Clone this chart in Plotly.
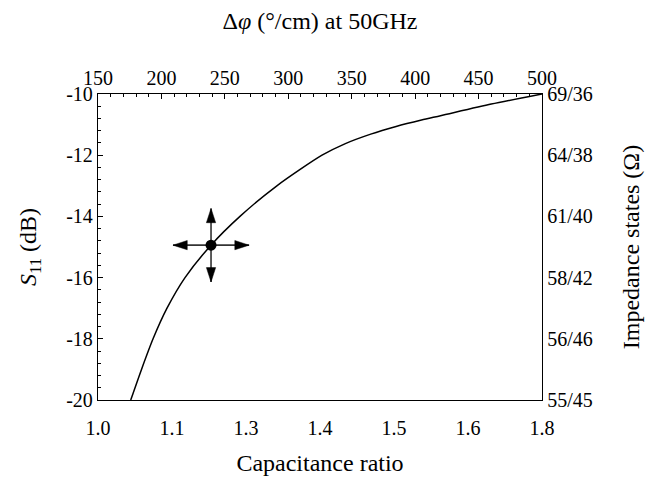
import plotly.graph_objects as go

# ---- data ----
dphi = [175.8, 184.3, 193.4, 204.4, 218.6, 239.1, 261.9, 291.0, 326.6, 345, 365, 385, 405, 420, 460, 500]
s11 = [-20, -19, -18, -17, -16, -14.94, -14, -13, -12, -11.62, -11.31, -11.06, -10.85, -10.71, -10.33, -10]
marker_dphi = [239.1]
marker_s11 = [-14.94]

cap_ticks = [0, 1, 2, 3, 4, 5, 6]
cap_labels = ["1.0", "1.1", "1.3", "1.4", "1.5", "1.6", "1.8"]
s11_ticks = [-20, -18, -16, -14, -12, -10]
s11_labels = ["-20", "-18", "-16", "-14", "-12", "-10"]
imp_labels = ["55/45", "56/46", "58/42", "61/40", "64/38", "69/36"]

FONT = "Liberation Serif"
fs = 20
tfs = 24

fig = go.Figure()
fig.add_trace(go.Scatter(x=dphi, y=s11, xaxis="x2", yaxis="y", mode="lines",
                         line=dict(color="black", width=1.5, shape="spline", smoothing=0.7),
                         showlegend=False, hoverinfo="skip"))
fig.add_trace(go.Scatter(x=[None], y=[None], xaxis="x", yaxis="y2", mode="lines",
                         showlegend=False, hoverinfo="skip"))

# arrows: shafts as short lines, heads as arrow-shaped markers
adx, ady = 30, 1.2
mx, my = marker_dphi[0], marker_s11[0]
heads = [(mx, my + ady, 0), (mx, my - ady, 180), (mx - adx, my, 270), (mx + adx, my, 90)]
for hx, hy, ang in heads:
    fig.add_trace(go.Scatter(x=[mx, hx], y=[my, hy], xaxis="x2", yaxis="y", mode="lines",
                             line=dict(color="#333", width=1.6),
                             showlegend=False, hoverinfo="skip"))
fig.add_trace(go.Scatter(x=[h[0] for h in heads], y=[h[1] for h in heads], xaxis="x2", yaxis="y",
                         mode="markers",
                         marker=dict(symbol="arrow", size=15, color="#000000",
                                     angle=[h[2] for h in heads], opacity=1,
                                     line=dict(width=0.5, color="#000000")),
                         showlegend=False, hoverinfo="skip"))

fig.add_trace(go.Scatter(x=marker_dphi, y=marker_s11, xaxis="x2", yaxis="y", mode="markers",
                         marker=dict(color="black", size=11), showlegend=False, hoverinfo="skip"))

axis_common = dict(showgrid=False, zeroline=False, showline=True, linecolor="black", linewidth=1.3,
                   ticks="inside", ticklen=5, tickcolor="black", tickwidth=1,
                   tickfont=dict(family=FONT, size=fs, color="black"))

fig.update_layout(
    width=656, height=476,
    margin=dict(l=90, r=122, t=80, b=84),
    paper_bgcolor="white", plot_bgcolor="white",
    font=dict(family=FONT, size=fs, color="black"),
    xaxis=dict(**axis_common, range=[0, 6], tickvals=cap_ticks, ticktext=cap_labels,
               ticklabelstandoff=10,
               minor=dict(dtick=0.2, tick0=0, ticks="inside", ticklen=3, tickcolor="black"),
               title=dict(text="Capacitance ratio", font=dict(family=FONT, size=tfs), standoff=16),
               anchor="y"),
    xaxis2=dict(**axis_common, range=[150, 500], dtick=50, tick0=150, overlaying="x", side="top",
                minor=dict(dtick=10, tick0=150, ticks="inside", ticklen=3, tickcolor="black"),
                title=dict(text="Δ<i>φ</i> (°/cm) at 50GHz", font=dict(family=FONT, size=tfs), standoff=30),
                anchor="y"),
    yaxis=dict(**axis_common, range=[-20, -10], tickvals=s11_ticks, ticktext=s11_labels,
               minor=dict(dtick=0.4, tick0=-20, ticks="inside", ticklen=3, tickcolor="black"),
               title=dict(text="<i>S</i><sub>11</sub> (dB)", font=dict(family=FONT, size=tfs), standoff=22),
               anchor="x"),
    yaxis2=dict(**axis_common, range=[-20, -10], tickvals=s11_ticks, ticktext=imp_labels,
                overlaying="y", side="right",
                minor=dict(dtick=0.4, tick0=-20, ticks="inside", ticklen=3, tickcolor="black"),
                title=dict(text="Impedance states (Ω)", font=dict(family=FONT, size=tfs), standoff=30),
                anchor="x"),
)

fig.write_html("out.html")
